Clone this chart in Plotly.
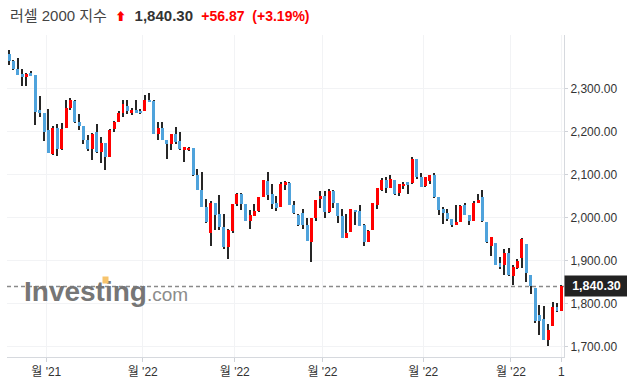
import plotly.graph_objects as go

# ---- data ----
opens = [2380, 2364, 2344, 2333, 2327, 2336, 2331, 2250, 2243, 2203,
         2148, 2208, 2159, 2209, 2255, 2271, 2222, 2212, 2181, 2160,
         2198, 2153, 2172, 2141, 2205, 2222, 2243, 2260, 2243, 2250,
         2248, 2248, 2274, 2271, 2194, 2208, 2180, 2171, 2195, 2178,
         2157, 2156, 2162, 2100, 2065, 2024, 1965, 2033, 2008, 1979,
         1932, 1969, 2031, 2054, 2031, 1992, 2004, 2015, 2048, 2084,
         2054, 2033, 2025, 2075, 2081, 2029, 2005, 2010, 1982, 1944,
         1998, 2044, 2050, 2012, 2062, 2033, 2004, 1952, 1967, 2017,
         2015, 1982, 1944, 1971, 2030, 2065, 2088, 2068, 2088, 2057,
         2073, 2082, 2080, 2135, 2094, 2073, 2086, 2098, 2047, 2020,
         2011, 1996, 1982, 1989, 2029, 2005, 1992, 2033, 2048, 1989,
         1934, 1942, 1894, 1891, 1917, 1864, 1882, 1907, 1938, 1868,
         1836, 1773, 1764, 1715, 1748, 1792, 1783.43]
highs = [2389, 2366, 2370, 2344, 2336, 2340, 2331, 2282, 2243, 2253,
         2212, 2217, 2219, 2272, 2277, 2273, 2240, 2212, 2191, 2197,
         2217, 2186, 2172, 2205, 2225, 2248, 2273, 2273, 2254, 2272,
         2253, 2284, 2288, 2272, 2221, 2221, 2180, 2195, 2211, 2198,
         2163, 2165, 2162, 2112, 2106, 2044, 2038, 2035, 2052, 2009,
         1973, 2031, 2056, 2056, 2031, 2018, 2031, 2048, 2087, 2106,
         2077, 2050, 2083, 2086, 2082, 2038, 2008, 2019, 2000, 1998,
         2042, 2062, 2062, 2067, 2065, 2033, 2021, 2008, 2021, 2018,
         2030, 1986, 1972, 2033, 2069, 2092, 2095, 2099, 2088, 2078,
         2082, 2082, 2141, 2135, 2104, 2095, 2100, 2104, 2047, 2025,
         2019, 1997, 2029, 2029, 2034, 2005, 2038, 2054, 2063, 1989,
         1956, 1942, 1909, 1928, 1930, 1890, 1903, 1953, 1938, 1868,
         1836, 1797, 1795, 1754, 1805, 1802, 1843]
lows = [2353, 2342, 2331, 2305, 2306, 2328, 2216, 2233, 2178, 2149,
        2146, 2144, 2157, 2209, 2250, 2219, 2203, 2171, 2154, 2133,
        2149, 2127, 2110, 2141, 2198, 2222, 2233, 2240, 2237, 2243,
        2240, 2248, 2268, 2195, 2181, 2180, 2135, 2157, 2171, 2157,
        2128, 2155, 2096, 2064, 2025, 1988, 1935, 1971, 1971, 1928,
        1905, 1964, 2027, 2018, 1991, 1973, 2004, 2014, 2048, 2042,
        2019, 2015, 2025, 2064, 2030, 2009, 1981, 1973, 1945, 1898,
        1992, 2023, 1998, 2010, 2023, 1988, 1953, 1952, 1967, 1982,
        1981, 1935, 1944, 1971, 2020, 2061, 2057, 2068, 2052, 2050,
        2067, 2054, 2079, 2090, 2071, 2071, 2078, 2046, 2007, 1986,
        1993, 1979, 1982, 1989, 2006, 1982, 1992, 2033, 1989, 1941,
        1911, 1891, 1881, 1866, 1864, 1843, 1880, 1883, 1850, 1823,
        1756, 1727, 1716, 1702, 1748, 1781, 1783]
closes = [2364, 2344, 2332, 2327, 2333, 2329, 2246, 2243, 2199, 2149,
          2208, 2159, 2205, 2254, 2272, 2221, 2213, 2181, 2160, 2195,
          2153, 2174, 2141, 2203, 2223, 2242, 2263, 2248, 2250, 2243,
          2242, 2273, 2268, 2195, 2208, 2180, 2171, 2195, 2176, 2159,
          2163, 2162, 2098, 2064, 2025, 1990, 2035, 2006, 1978, 1932,
          1971, 2031, 2054, 2031, 1992, 2005, 2015, 2047, 2087, 2052,
          2032, 2022, 2079, 2082, 2030, 2010, 1983, 1983, 1946, 1998,
          2042, 2050, 2012, 2062, 2033, 2004, 1953, 1965, 2019, 2012,
          1981, 1944, 1970, 2033, 2068, 2088, 2068, 2090, 2054, 2077,
          2079, 2075, 2135, 2094, 2071, 2094, 2098, 2047, 2017, 2010,
          1996, 1983, 1989, 2028, 2006, 1992, 2033, 2040, 1991, 1943,
          1956, 1891, 1885, 1918, 1866, 1885, 1900, 1951, 1872, 1841,
          1761, 1761, 1717, 1740, 1793, 1783.43, 1840.30]

x_tick_pos = [8.5, 30.5, 51.5, 71.5, 94.5, 114.5, 126]
x_tick_text = ["월 '21", "월 '22", "월 '22", "월 '22", "월 '22", "월 '22", "1"]
y_tick_vals = [1700, 1800, 1900, 2000, 2100, 2200, 2300]

title_name = "러셀 2000 지수"
last_price = closes[-1]
change = closes[-1] - opens[-1]
change_pct = change / opens[-1] * 100

UP = "#ff0000"
DOWN = "#4fa3dc"
WICK = "#262626"
FONT = "Liberation Sans, Arial, Noto Sans CJK KR, sans-serif"

idx = list(range(len(closes)))
body_base = [min(o, c) for o, c in zip(opens, closes)]
body_h = [max(abs(c - o), 0.8) for o, c in zip(opens, closes)]
body_col = [UP if c >= o else DOWN for o, c in zip(opens, closes)]
wick_h = [h - l for h, l in zip(highs, lows)]

fig = go.Figure()
fig.add_trace(go.Bar(x=idx, base=lows, y=wick_h, width=0.27,
                     marker=dict(color=WICK, line=dict(width=0)),
                     hoverinfo="skip", showlegend=False))
fig.add_trace(go.Bar(x=idx, base=body_base, y=body_h, width=0.68,
                     marker=dict(color=body_col, line=dict(width=0)),
                     customdata=list(zip(opens, highs, lows, closes)),
                     hovertemplate="O %{customdata[0]}<br>H %{customdata[1]}<br>L %{customdata[2]}<br>C %{customdata[3]}<extra></extra>",
                     showlegend=False))

fig.add_shape(type="line", xref="paper", x0=0, x1=1, yref="y",
              y0=last_price, y1=last_price, layer="between",
              line=dict(color="#8a8a8a", width=1.5, dash="4px,3px"))

grid = "#f2f3f5"
axis_line = "#d6d9de"
fig.update_layout(
    width=627, height=390,
    margin=dict(l=7, r=63, t=35, b=33, pad=0),
    paper_bgcolor="white", plot_bgcolor="white",
    barmode="overlay", bargap=0,
    font=dict(family=FONT, size=12, color="#333333"),
    showlegend=False,
    xaxis=dict(range=[-0.46, 126.6], tickmode="array", tickvals=x_tick_pos,
               ticktext=x_tick_text, showgrid=True, gridcolor=grid, gridwidth=1,
               zeroline=False, showline=True, linecolor=axis_line, linewidth=1,
               ticks="outside", ticklen=4, tickcolor="#cfd2d8",
               tickfont=dict(size=12, color="#333333"), fixedrange=True),
    yaxis=dict(range=[1676.6, 2423.7], side="right", tickmode="array",
               tickvals=y_tick_vals, tickformat=",.2f", showgrid=True,
               gridcolor=grid, gridwidth=1, zeroline=False, showline=True,
               linecolor=axis_line, linewidth=1, ticks="outside", ticklen=3,
               tickcolor="#cfd2d8", tickfont=dict(size=12, color="#333333"),
               fixedrange=True),
)

title_text = (f"<span style='color:#444444'>{title_name}</span>  "
              f"<span style='color:{UP};font-size:11px'>⬆</span>  "
              f"<b>{last_price:,.2f}</b>  "
              f"<span style='color:{UP};font-size:14px'><b>{change:+.2f}</b>  "
              f"<b>({change_pct:+.2f}%)</b></span>")
fig.add_annotation(xref="paper", yref="paper", x=0.0018, y=1.062,
                   xanchor="left", yanchor="middle", showarrow=False,
                   text=title_text, font=dict(size=15, color="#333333", family=FONT))

# last price tag
fig.add_annotation(xref="paper", yref="y", x=1, y=last_price, xanchor="left",
                   yanchor="middle", showarrow=False,
                   text=f"<b>{last_price:,.2f}</b>", bgcolor="#222222",
                   font=dict(size=12.5, color="white", family=FONT),
                   width=61, height=18, borderpad=1, align="center")

# watermark
fig.add_annotation(xref="paper", yref="paper", x=0.027, y=0.202,
                   xanchor="left", yanchor="middle", showarrow=False,
                   text="<b>Investing</b><span style='font-size:19px;color:#8c8c8c'>.com</span>",
                   font=dict(size=28, color="#767676", family=FONT))
# orange accent on the watermark's "i"
fig.add_annotation(xref="paper", yref="paper", x=0.1777, y=0.239,
                   xanchor="center", yanchor="middle", showarrow=False,
                   text=" ", bgcolor="#f7c46c", width=5, height=6,
                   borderpad=0, font=dict(size=4))

fig.write_html("out.html")
